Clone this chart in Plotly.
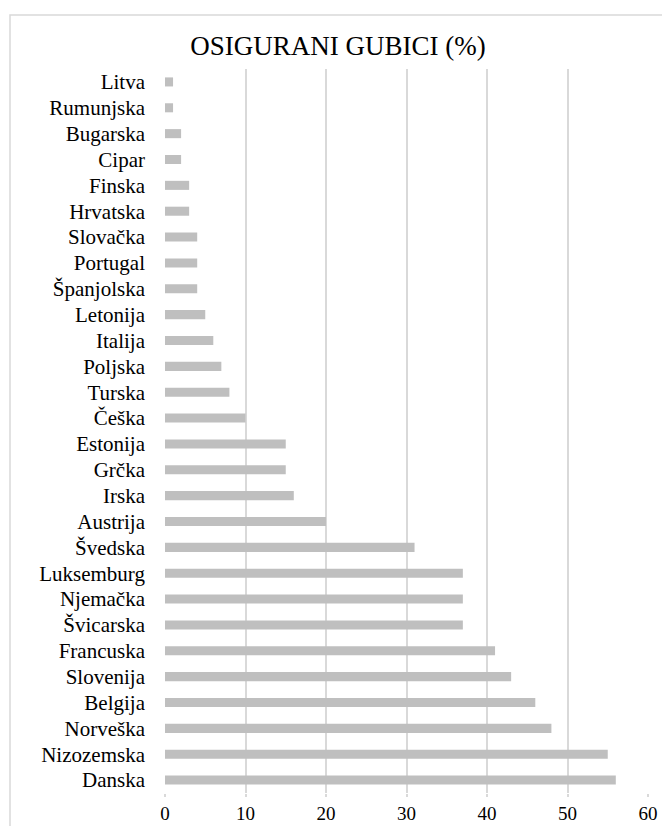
import plotly.graph_objects as go

countries = ["Litva", "Rumunjska", "Bugarska", "Cipar", "Finska", "Hrvatska", "Slovačka",
             "Portugal", "Španjolska", "Letonija", "Italija", "Poljska", "Turska", "Češka",
             "Estonija", "Grčka", "Irska", "Austrija", "Švedska", "Luksemburg", "Njemačka",
             "Švicarska", "Francuska", "Slovenija", "Belgija", "Norveška", "Nizozemska", "Danska"]
values = [1, 1, 2, 2, 3, 3, 4, 4, 4, 5, 6, 7, 8, 10, 15, 15, 16, 20, 31, 37, 37, 37, 41, 43,
          46, 48, 55, 56]
x_ticks = [0, 10, 20, 30, 40, 50, 60]
title_text = "OSIGURANI GUBICI (%)"

OFF = 8  # page body margin
W, H = 670 - OFF, 826 - OFF
L, T = 165 - OFF, 69 - OFF
R = W - (648 - OFF)
B = H - (793 - OFF)
pw, ph = W - L - R, H - T - B

def px_x(ax):
    return (ax - OFF - L) / pw

def px_y(ay):
    return (H - B - (ay - OFF)) / ph

fig = go.Figure(go.Bar(
    x=values, y=countries, orientation="h",
    marker=dict(color="#bfbfbf", line=dict(width=0)),
    hoverinfo="x+y",
))

serif = "Liberation Serif"

fig.update_layout(
    width=W, height=H,
    margin=dict(l=L, r=R, t=T, b=B),
    paper_bgcolor="white", plot_bgcolor="white",
    bargap=0.65,
    showlegend=False,
    title=dict(text=title_text, x=(338 - OFF) / W, xref="container", xanchor="center",
               y=1 - (46 - OFF) / H, yref="container", yanchor="middle",
               font=dict(family=serif, size=27, color="#000000")),
    font=dict(family=serif, color="#000000"),
    shapes=[dict(type="rect", xref="paper", yref="paper",
                 x0=px_x(10), x1=px_x(690), y0=px_y(850), y1=px_y(15),
                 line=dict(color="#d9d9d9", width=1.5), fillcolor="rgba(0,0,0,0)",
                 layer="below")],
)

fig.update_xaxes(range=[0, 60], tickvals=x_ticks, showgrid=True, gridcolor="#d9d9d9",
                 gridwidth=1.5, zeroline=False, showline=False, automargin=False,
                 ticks="outside", ticklen=3, tickcolor="#d9d9d9", tickwidth=1.5,
                 tickfont=dict(family=serif, size=19, color="#000000"),
                 ticklabelstandoff=0)
fig.update_yaxes(categoryorder="array", categoryarray=countries, autorange="reversed",
                 showgrid=False, zeroline=False, showline=False, automargin=False,
                 ticks="", ticklabelstandoff=19,
                 tickfont=dict(family=serif, size=21, color="#000000"))

fig.write_html("out.html")
